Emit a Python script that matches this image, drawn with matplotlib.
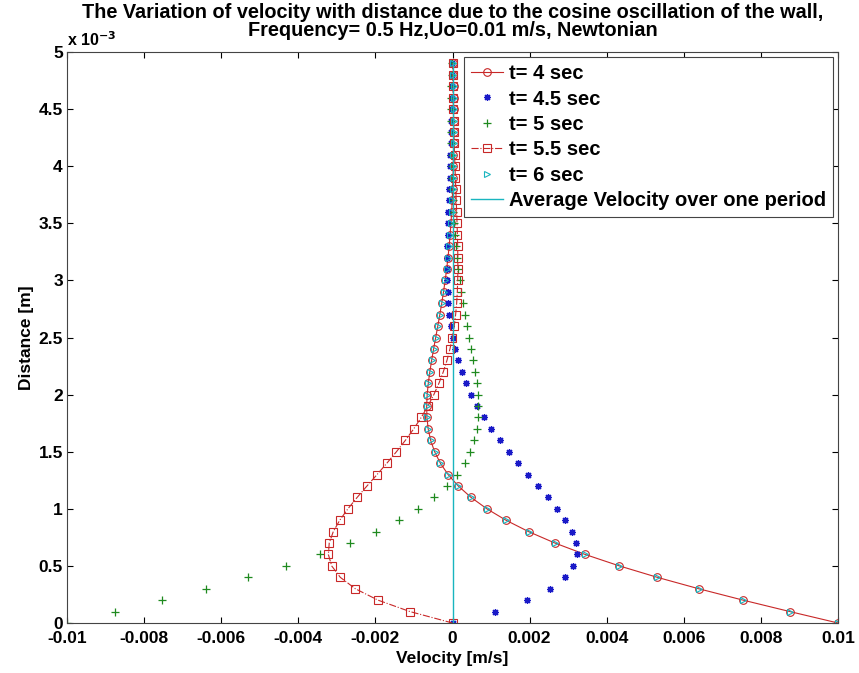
import matplotlib
matplotlib.use('Agg')
import matplotlib.pyplot as plt
from matplotlib.ticker import FixedLocator
from matplotlib import font_manager

# distancia a la pared [mm] (se pinta con escala x 10^-3)
dist_mm = [0.0, 0.1, 0.2, 0.3, 0.4, 0.5, 0.6, 0.7, 0.8, 0.9,
           1.0, 1.1, 1.2, 1.3, 1.4, 1.5, 1.6, 1.7, 1.8, 1.9,
           2.0, 2.1, 2.2, 2.3, 2.4, 2.5, 2.6, 2.7, 2.8, 2.9,
           3.0, 3.1, 3.2, 3.3, 3.4, 3.5, 3.6, 3.7, 3.8, 3.9,
           4.0, 4.1, 4.2, 4.3, 4.4, 4.5, 4.6, 4.7, 4.8, 4.9]

# velocidades, en unidades de 1e-3 m/s
u_t4 = [10.0, 8.753, 7.540, 6.386, 5.312, 4.328, 3.443, 2.658, 1.974, 1.387,
        0.891, 0.481, 0.148, -0.115, -0.316, -0.464, -0.567, -0.631, -0.663, -0.670,
        -0.657, -0.628, -0.588, -0.541, -0.490, -0.436, -0.382, -0.329, -0.279, -0.233,
        -0.190, -0.151, -0.117, -0.087, -0.062, -0.040, -0.022, -0.007, 0.004, 0.013,
        0.020, 0.024, 0.027, 0.029, 0.029, 0.028, 0.027, 0.026, 0.024, 0.021]
u_t45 = [0.0, 1.103, 1.931, 2.521, 2.911, 3.134, 3.220, 3.198, 3.093, 2.925,
         2.713, 2.473, 2.218, 1.957, 1.701, 1.454, 1.221, 1.006, 0.811, 0.637,
         0.484, 0.351, 0.238, 0.143, 0.066, 0.004, -0.045, -0.081, -0.108, -0.125,
         -0.135, -0.139, -0.138, -0.134, -0.127, -0.118, -0.108, -0.097, -0.085, -0.074,
         -0.064, -0.053, -0.044, -0.036, -0.028, -0.021, -0.016, -0.011, -0.006, -0.003]
u_t5 = [-10.0, -8.753, -7.540, -6.386, -5.312, -4.328, -3.443, -2.658, -1.974, -1.387,
        -0.891, -0.481, -0.148, 0.115, 0.316, 0.464, 0.567, 0.631, 0.663, 0.670,
        0.657, 0.628, 0.588, 0.541, 0.490, 0.436, 0.382, 0.329, 0.279, 0.233,
        0.190, 0.151, 0.117, 0.087, 0.062, 0.040, 0.022, 0.007, -0.004, -0.013,
        -0.020, -0.024, -0.027, -0.029, -0.029, -0.028, -0.027, -0.026, -0.024, -0.021]
u_t55 = [0.0, -1.103, -1.931, -2.521, -2.911, -3.134, -3.220, -3.198, -3.093, -2.925,
         -2.713, -2.473, -2.218, -1.957, -1.701, -1.454, -1.221, -1.006, -0.811, -0.637,
         -0.484, -0.351, -0.238, -0.143, -0.066, -0.004, 0.045, 0.081, 0.108, 0.125,
         0.135, 0.139, 0.138, 0.134, 0.127, 0.118, 0.108, 0.097, 0.085, 0.074,
         0.064, 0.053, 0.044, 0.036, 0.028, 0.021, 0.016, 0.011, 0.006, 0.003]
u_t6 = [10.0, 8.753, 7.540, 6.386, 5.312, 4.328, 3.443, 2.658, 1.974, 1.387,
        0.891, 0.481, 0.148, -0.115, -0.316, -0.464, -0.567, -0.631, -0.663, -0.670,
        -0.657, -0.628, -0.588, -0.541, -0.490, -0.436, -0.382, -0.329, -0.279, -0.233,
        -0.190, -0.151, -0.117, -0.087, -0.062, -0.040, -0.022, -0.007, 0.004, 0.013,
        0.020, 0.024, 0.027, 0.029, 0.029, 0.028, 0.027, 0.026, 0.024, 0.021]
# velocidad media en un periodo (cero) y su rango en y
u_avg = [0.0, 0.0]
dist_avg = [0.0, 4.9]

x_ticks = [-0.01, -0.008, -0.006, -0.004, -0.002, 0, 0.002, 0.004, 0.006, 0.008, 0.01]
x_labels = ['-0.01', '-0.008', '-0.006', '-0.004', '-0.002', '0',
            '0.002', '0.004', '0.006', '0.008', '0.01']
y_ticks = [0, 0.5, 1, 1.5, 2, 2.5, 3, 3.5, 4, 4.5, 5]
y_labels = ['0', '0.5', '1', '1.5', '2', '2.5', '3', '3.5', '4', '4.5', '5']

names = [f.name for f in font_manager.fontManager.ttflist]
fuente = 'Liberation Sans' if 'Liberation Sans' in names else 'DejaVu Sans'
fuente_titulo = 'Liberation Sans Narrow' if 'Liberation Sans Narrow' in names else fuente
plt.rcParams['font.family'] = fuente
plt.rcParams['font.weight'] = 'bold'

rojo = '#c82828'
azul = '#1a1ac8'
verde = '#1f8a1f'
cian = '#19b5bf'

def mps(vals):
    return [v * 1e-3 for v in vals]

fig = plt.figure(figsize=(8.59, 6.73), dpi=100)
ax = fig.add_axes([67 / 859, 50 / 673, 771 / 859, 571 / 673])

ax.plot(mps(u_t4), dist_mm, '-', color=rojo, lw=0.8, marker='o', ms=5.5,
        mfc='none', mec=rojo, mew=0.8, label='t= 4 sec')
ax.plot(mps(u_t45), dist_mm, ls='none', marker=(8, 2, 0), ms=5, color=azul,
        mew=0.9, label='t= 4.5 sec')
ax.plot(mps(u_t5), dist_mm, ls='none', marker='+', ms=6, color=verde,
        mew=0.9, label='t= 5 sec')
ax.plot(mps(u_t55), dist_mm, '-.', color=rojo, lw=0.8, marker='s', ms=6,
        mfc='none', mec=rojo, mew=0.8, label='t= 5.5 sec')
ax.plot(mps(u_t6), dist_mm, ls='none', marker='>', ms=5, mfc='none',
        mec=cian, mew=0.8, label='t= 6 sec')
ax.plot(u_avg, dist_avg, '-', color=cian, lw=1.0,
        label='Average Velocity over one period')

ax.set_xlim(-0.01, 0.01)
ax.set_ylim(0, 5)
ax.xaxis.set_major_locator(FixedLocator(x_ticks))
ax.set_xticklabels(x_labels)
ax.yaxis.set_major_locator(FixedLocator(y_ticks))
ax.set_yticklabels(y_labels)
ax.tick_params(direction='in', top=True, right=True, length=4, width=0.8,
               labelsize=12.5)
ax.tick_params(axis='x', pad=6)
ax.tick_params(axis='y', pad=3)
for s in ax.spines.values():
    s.set_linewidth(0.8)
    s.set_color('#444444')

ax.set_xlabel('Velocity [m/s]', fontsize=12.5, fontweight='bold', labelpad=3)
ax.set_ylabel('Distance [m]', fontsize=12.5, fontweight='bold', labelpad=3)
ax.text(0.0, 1.006, 'x 10$^{\\mathbf{-3}}$', transform=ax.transAxes, fontsize=11.5,
        fontweight='bold', ha='left', va='bottom')

# titulo en dos lineas, centrado sobre los ejes
titulo_x = (67 + 771 / 2) / 859
fig.text(titulo_x, 1 - 18 / 673,
         'The Variation of velocity with distance due to the cosine oscillation of the wall,',
         ha='center', va='baseline', fontsize=14.3, fontweight='bold', family=fuente_titulo)
fig.text(titulo_x, 1 - 36 / 673, 'Frequency= 0.5 Hz,Uo=0.01 m/s, Newtonian',
         ha='center', va='baseline', fontsize=14.3, fontweight='bold', family=fuente_titulo)

leg = ax.legend(loc='upper right', bbox_to_anchor=(0.9935, 0.991), borderaxespad=0,
                fancybox=False, framealpha=1, edgecolor='#444444',
                prop={'size': 14.5, 'weight': 'bold'}, handlelength=1.6,
                labelspacing=0.315, borderpad=0.35, handletextpad=0.3)
leg.get_frame().set_linewidth(0.8)

fig.savefig('out.png', dpi=100)
